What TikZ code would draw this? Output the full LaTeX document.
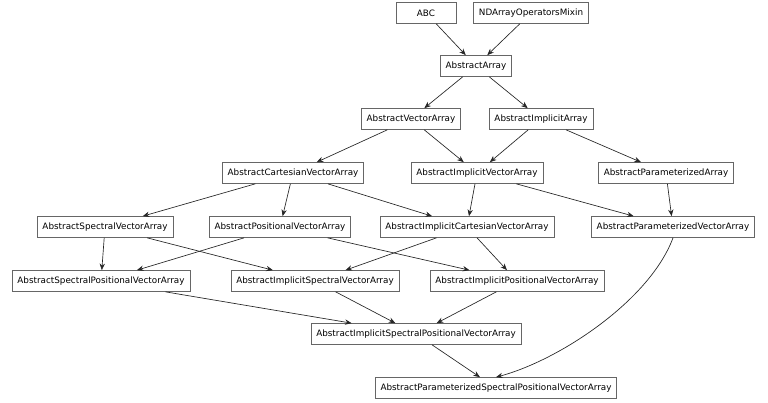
\documentclass[tikz,border=0pt]{standalone}
\usepackage{fontspec}
\setmainfont{DejaVu Sans}
\usetikzlibrary{arrows.meta}
\begin{document}
\begin{tikzpicture}[x=0.75pt,y=-0.75pt,
  cls/.style={draw=gray!80!black,line width=0.5pt,fill=white,font=\fontsize{6.6}{8}\selectfont,minimum height=15.75pt,inner xsep=4pt,inner ysep=0pt},
  edge/.style={draw=black!85,line width=0.5pt,-{Stealth[length=5pt,width=4pt]}}]
\useasboundingbox (0,0) rectangle (768,403);
\node[cls,minimum width=45pt] (abc) at (426,13) {ABC};
\node[cls] (nd) at (531,13) {NDArrayOperatorsMixin};
\node[cls] (aa) at (476,66) {AbstractArray};
\node[cls] (ava) at (411,119) {AbstractVectorArray};
\node[cls] (aia) at (541,119) {AbstractImplicitArray};
\node[cls] (acva) at (293,173) {AbstractCartesianVectorArray};
\node[cls] (aiva) at (477,173) {AbstractImplicitVectorArray};
\node[cls] (apa) at (666,173) {AbstractParameterizedArray};
\node[cls] (asva) at (105,227) {AbstractSpectralVectorArray};
\node[cls] (apva) at (280,227) {AbstractPositionalVectorArray};
\node[cls] (aicva) at (467,227) {AbstractImplicitCartesianVectorArray};
\node[cls] (apzva) at (673,227) {AbstractParameterizedVectorArray};
\node[cls] (aspva) at (101,281) {AbstractSpectralPositionalVectorArray};
\node[cls] (aisva) at (315,281) {AbstractImplicitSpectralVectorArray};
\node[cls] (aipva) at (517,281) {AbstractImplicitPositionalVectorArray};
\node[cls] (aispva) at (416,334) {AbstractImplicitSpectralPositionalVectorArray};
\node[cls] (apspva) at (496,388) {AbstractParameterizedSpectralPositionalVectorArray};
\draw[edge] (abc) -- (aa);
\draw[edge] (nd) -- (aa);
\draw[edge] (aa) -- (ava);
\draw[edge] (aa) -- (aia);
\draw[edge] (ava) -- (acva);
\draw[edge] (ava) -- (aiva);
\draw[edge] (aia) -- (aiva);
\draw[edge] (aia) -- (apa);
\draw[edge] (acva) -- (asva);
\draw[edge] (acva) -- (apva);
\draw[edge] (acva) -- (aicva);
\draw[edge] (aiva) -- (aicva);
\draw[edge] (aiva) -- (apzva);
\draw[edge] (apa) -- (apzva);
\draw[edge] (asva) -- (aspva);
\draw[edge] (asva) -- (aisva);
\draw[edge] (apva) -- (aspva);
\draw[edge] (apva) -- (aipva);
\draw[edge] (aicva) -- (aisva);
\draw[edge] (aicva) -- (aipva);
\draw[edge] (aspva) -- (aispva);
\draw[edge] (aisva) -- (aispva);
\draw[edge] (aipva) -- (aispva);
\draw[edge] (aispva) -- (apspva);
\draw[edge] (apzva.south) .. controls (650,300) and (560,360) .. (apspva.north);
\end{tikzpicture}
\end{document}
